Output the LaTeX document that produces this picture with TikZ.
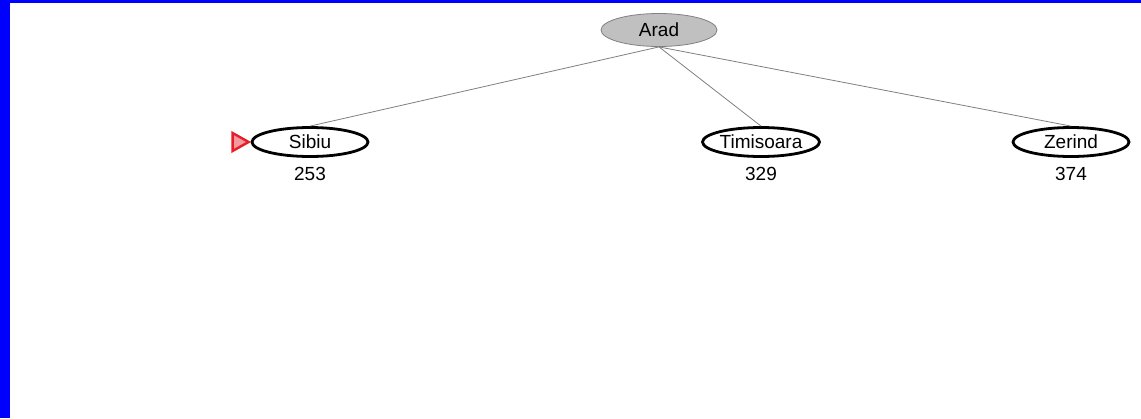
\documentclass[tikz,border=0pt]{standalone}
\usepackage{fontspec}
\setmainfont{Liberation Sans}
\usepackage{tikz}
\usetikzlibrary{calc,shapes.geometric,positioning}
\usepackage{xcolor}
\definecolor{myblue}{RGB}{0,0,255}
\definecolor{mygray}{RGB}{192,192,192}
\definecolor{myred}{RGB}{230,30,40}

\begin{document}
\begin{tikzpicture}[x=1pt,y=-1pt,
    city/.style={draw, ellipse, line width=2.8pt, minimum width=116pt, minimum height=29pt, inner sep=0pt, font=\fontsize{19}{22}\selectfont},
    root/.style={city, fill=mygray, draw=gray, line width=0.8pt, minimum height=33pt},
    cost/.style={font=\fontsize{19}{22}\selectfont, inner sep=0pt},
    edge/.style={draw=gray, line width=0.8pt}]
  % frame
  \fill[white] (0,0) rectangle (1141,418);
  \fill[myblue] (0,0) rectangle (10,418);
  \fill[myblue] (0,0) rectangle (1141,3);
  \useasboundingbox (0,0) rectangle (1141,418);

  % tree
  \node[root] (arad) at (659,30) {Arad};
  \node[city] (sibiu) at (310,142) {Sibiu};
  \node[city] (timisoara) at (761,142) {Timisoara};
  \node[city] (zerind) at (1071,142) {Zerind};

  \node[cost] (c253) at (310,174) {253};
  \node[cost] (c329) at (761,174) {329};
  \node[cost] (c374) at (1071,174) {374};

  \draw[edge] (arad.south) -- (sibiu.north);
  \draw[edge] (arad.south) -- (timisoara.north);
  \draw[edge] (arad.south) -- (zerind.north);

  % marker on the chosen node
  \coordinate (tip) at (sibiu.west);
  \draw[myred, line width=2.4pt, fill=myred!45, line join=miter]
    ($(tip)+(-18,-9)$) -- ($(tip)+(-2,0)$) -- ($(tip)+(-18,9)$) -- cycle;
\end{tikzpicture}
\end{document}
